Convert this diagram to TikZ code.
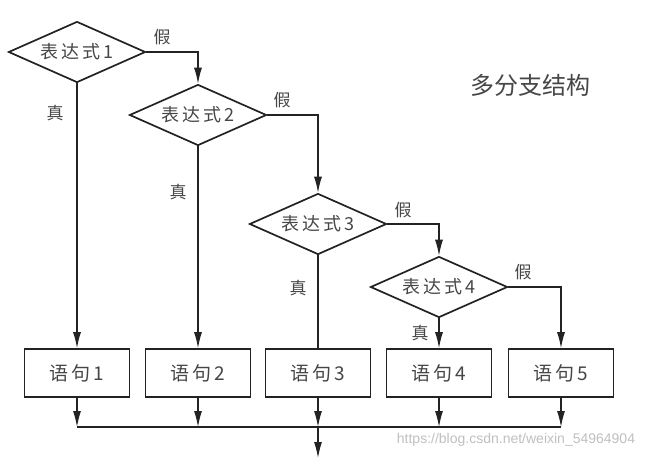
\documentclass[tikz,border=0pt]{standalone}
\usepackage{fontspec}
\newfontfamily\cjk{Noto Sans CJK SC}
\newfontfamily\cjkwide[LetterSpace=15]{Noto Sans CJK SC}
\newfontfamily\wmfont{Liberation Sans}
\usetikzlibrary{arrows.meta, positioning, shapes.geometric}
\definecolor{linegray}{RGB}{35,35,35}
\definecolor{textgray}{RGB}{70,70,70}

\begin{document}
\begin{tikzpicture}[x=1pt, y=-1pt,
  cond/.style={diamond, aspect=2.25, draw=linegray, line width=1.7pt, minimum width=137pt, minimum height=61pt, inner sep=0pt, font=\cjkwide\fontsize{18}{18}\selectfont, text=textgray},
  stmt/.style={rectangle, draw=linegray, line width=1.7pt, minimum width=105pt, minimum height=48pt, inner sep=0pt, font=\cjkwide\fontsize{19}{19}\selectfont, text=textgray},
  flow/.style={draw=linegray, line width=1.1pt},
  arr/.style={flow, -{Latex[length=16pt, width=8pt]}},
  lab/.style={font=\cjk\fontsize{17}{17}\selectfont, text=textgray}]
  \useasboundingbox (0,0) rectangle (658,467);

  % Conditions
  \node[cond] (e1) at (77,52) {表达式1};
  \node[cond] (e2) at (198,115) {表达式2};
  \node[cond] (e3) at (318,224) {表达式3};
  \node[cond] (e4) at (439,287) {表达式4};

  % Statements
  \node[stmt] (s1) at (77,373) {语句1};
  \node[stmt] (s2) at (198,373) {语句2};
  \node[stmt] (s3) at (318,373) {语句3};
  \node[stmt] (s4) at (439,373) {语句4};
  \node[stmt] (s5) at (561,373) {语句5};

  % False branches
  \draw[arr] (e1.east) -| (e2.north);
  \draw[arr] (e2.east) -| (e3.north);
  \draw[arr] (e3.east) -| (e4.north);
  \draw[arr] (e4.east) -| (s5.north);

  % True branches
  \draw[arr] (e1.south) -- (s1.north);
  \draw[arr] (e2.south) -- (s2.north);
  \draw[flow] (e3.south) -- (s3.north);
  \draw[arr] (e4.south) -- (s4.north);

  % Merge
  \coordinate (bus) at (318,427);
  \coordinate (out) at (318,458);
  \foreach \i in {1,...,5}
    \draw[arr] (s\i.south) -- (s\i.south |- bus);
  \draw[flow] (s1.south |- bus) -- (s5.south |- bus);
  \draw[arr] (bus) -- (out);

  % Labels
  \node[lab] (f1) at (162,37) {假};
  \node[lab] (f2) at (282,100) {假};
  \node[lab] (f3) at (403,210) {假};
  \node[lab] (f4) at (523,272) {假};
  \node[lab] (t1) at (55,113) {真};
  \node[lab] (t2) at (178,192) {真};
  \node[lab] (t3) at (298,288) {真};
  \node[lab] (t4) at (420,333) {真};

  \node[font=\cjk\fontsize{24}{24}\selectfont, text=textgray] (title) at (530,85) {多分支结构};
  \node[font=\wmfont\fontsize{14}{14}\selectfont, text=black!25] (mark) at (516,440) {https://blog.csdn.net/weixin\_54964904};
\end{tikzpicture}
\end{document}
